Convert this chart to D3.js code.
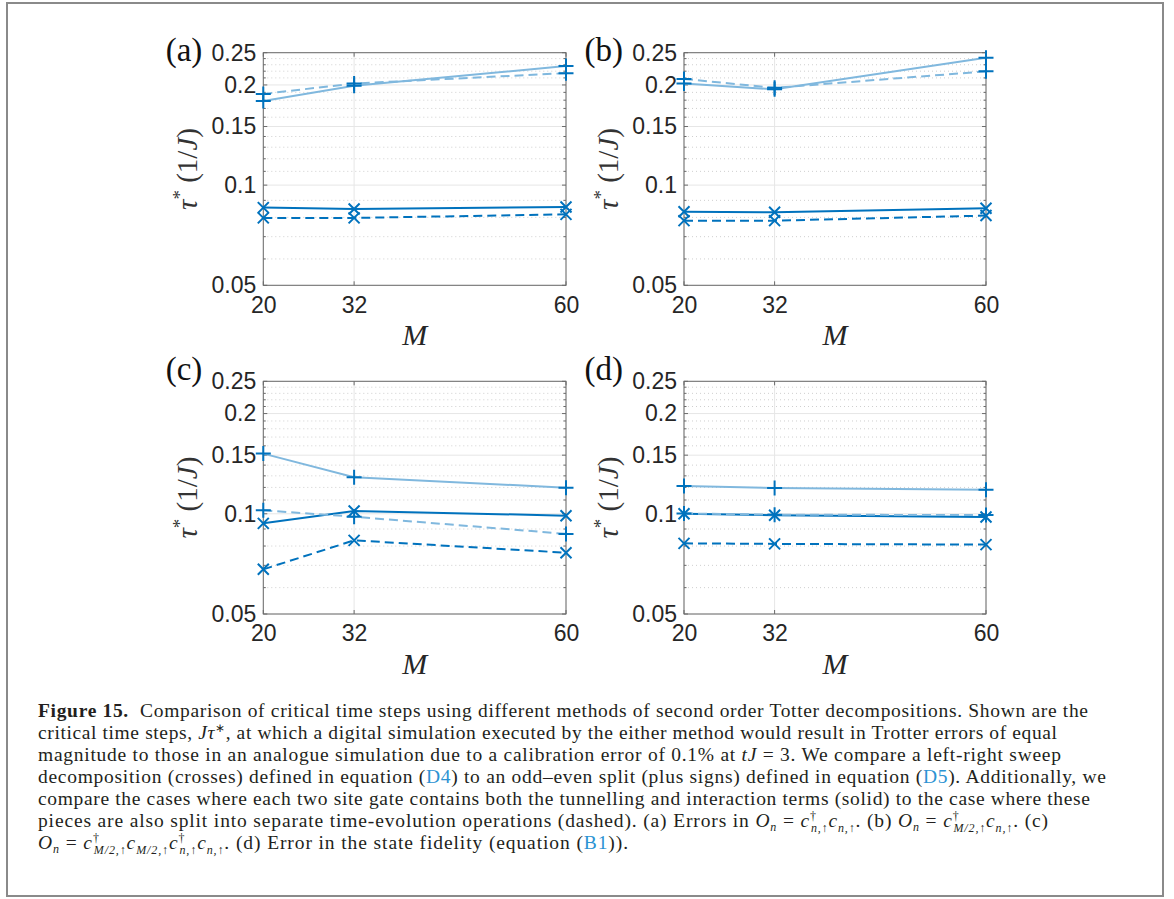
<!DOCTYPE html>
<html>
<head>
<meta charset="utf-8">
<script src="https://cdn.jsdelivr.net/npm/d3@7"></script>
<style>
  body { margin: 0; background: #fff; }
  svg { display: block; }
</style>
</head>
<body>
<script>
// x values (system size M) and axis ticks
const M = [20, 32, 60]
const xTickLabels = ['20', '32', '60']
const yTicks = [0.05, 0.1, 0.15, 0.2, 0.25]
const yTickLabels = ['0.05', '0.1', '0.15', '0.2', '0.25']
const panelLabels = ['(a)', '(b)', '(c)', '(d)']

// crosses = left-right sweep, plus = odd-even split; solid / dashed
const aCrossSolid = [0.0856, 0.0848, 0.0860]
const aCrossDashed = [0.0797, 0.0797, 0.0817]
const aPlusSolid = [0.179, 0.199, 0.228]
const aPlusDashed = [0.188, 0.202, 0.217]

const bCrossSolid = [0.0832, 0.0829, 0.0852]
const bCrossDashed = [0.0782, 0.0782, 0.0810]
const bPlusSolid = [0.202, 0.194, 0.2415]
const bPlusDashed = [0.2085, 0.196, 0.2197]

const cCrossSolid = [0.0936, 0.102, 0.0987]
const cCrossDashed = [0.0681, 0.0832, 0.0764]
const cPlusSolid = [0.1516, 0.1287, 0.1198]
const cPlusDashed = [0.1024, 0.098, 0.087]

const dCrossSolid = [0.1000, 0.0990, 0.0978]
const dCrossDashed = [0.0815, 0.0812, 0.0808]
const dPlusSolid = [0.1212, 0.1195, 0.1180]
const dPlusDashed = [0.1002, 0.0994, 0.0991]

const dark = '#0072BD'
const light = '#80b8de'
const dash = '9,5'

const panels = [
  { x0: 263.3, x1: 566, y0: 52.7, y1: 285.3, ly: 61, series: [aCrossSolid, aCrossDashed, aPlusSolid, aPlusDashed] },
  { x0: 684, x1: 986, y0: 52.7, y1: 285.3, ly: 61, series: [bCrossSolid, bCrossDashed, bPlusSolid, bPlusDashed] },
  { x0: 263.3, x1: 566, y0: 381.3, y1: 614, ly: 380, series: [cCrossSolid, cCrossDashed, cPlusSolid, cPlusDashed] },
  { x0: 684, x1: 986, y0: 381.3, y1: 614, ly: 380, series: [dCrossSolid, dCrossDashed, dPlusSolid, dPlusDashed] }
]

const svg = d3.select('body').append('svg')
  .attr('width', 1174)
  .attr('height', 899)

// outer frame
svg.append('rect')
  .attr('x', 7).attr('y', 3)
  .attr('width', 1156).attr('height', 893)
  .attr('fill', 'none')
  .attr('stroke', '#8a8a8a')
  .attr('stroke-width', 2)

const minorTicks = d3.range(6, 25).map(k => k / 100).filter(v => !yTicks.some(t => Math.abs(t - v) < 1e-9))

panels.forEach((p, i) => {
  const x = d3.scaleLinear().domain([20, 60]).range([p.x0, p.x1])
  const y = d3.scaleLog().domain([0.05, 0.25]).range([p.y1, p.y0])
  const g = svg.append('g')

  // grid
  g.selectAll('.gmin').data(minorTicks).join('line')
    .attr('x1', p.x0).attr('x2', p.x1)
    .attr('y1', d => y(d)).attr('y2', d => y(d))
    .attr('stroke', '#cfcfcf').attr('stroke-width', 1)
    .attr('stroke-dasharray', '1,3')
  g.selectAll('.gmaj').data(yTicks).join('line')
    .attr('x1', p.x0).attr('x2', p.x1)
    .attr('y1', d => y(d)).attr('y2', d => y(d))
    .attr('stroke', '#e6e6e6').attr('stroke-width', 1)
  g.selectAll('.gx').data(M).join('line')
    .attr('x1', d => x(d)).attr('x2', d => x(d))
    .attr('y1', p.y0).attr('y2', p.y1)
    .attr('stroke', '#e6e6e6').attr('stroke-width', 1)

  // box + inward ticks
  g.append('rect')
    .attr('x', p.x0).attr('y', p.y0)
    .attr('width', p.x1 - p.x0).attr('height', p.y1 - p.y0)
    .attr('fill', 'none').attr('stroke', '#6b6b6b').attr('stroke-width', 1)
  const tick = (vals, len) => {
    vals.forEach(v => {
      g.append('line').attr('x1', p.x0).attr('x2', p.x0 + len).attr('y1', y(v)).attr('y2', y(v))
        .attr('stroke', '#6b6b6b')
      g.append('line').attr('x1', p.x1).attr('x2', p.x1 - len).attr('y1', y(v)).attr('y2', y(v))
        .attr('stroke', '#6b6b6b')
    })
  }
  tick(yTicks, 4)
  tick(minorTicks, 2.5)
  M.forEach(v => {
    g.append('line').attr('x1', x(v)).attr('x2', x(v)).attr('y1', p.y1).attr('y2', p.y1 - 4).attr('stroke', '#6b6b6b')
    g.append('line').attr('x1', x(v)).attr('x2', x(v)).attr('y1', p.y0).attr('y2', p.y0 + 4).attr('stroke', '#6b6b6b')
  })

  // axes labels through d3 axes
  const yAxis = d3.axisLeft(y).tickValues(yTicks).tickFormat((d, k) => yTickLabels[k])
    .tickSize(0).tickPadding(7)
  const xAxis = d3.axisBottom(x).tickValues(M).tickFormat((d, k) => xTickLabels[k])
    .tickSize(0).tickPadding(11)
  g.append('g').attr('transform', `translate(${p.x0},0)`).call(yAxis)
    .call(s => s.select('.domain').remove())
    .selectAll('text').attr('font-family', '"Liberation Sans", Arial, sans-serif')
    .attr('font-size', 23).attr('fill', '#262626')
  g.append('g').attr('transform', `translate(0,${p.y1})`).call(xAxis)
    .call(s => s.select('.domain').remove())
    .selectAll('text').attr('font-family', '"Liberation Sans", Arial, sans-serif')
    .attr('font-size', 23).attr('fill', '#262626')

  const cx = (p.x0 + p.x1) / 2
  g.append('text')
    .attr('x', cx).attr('y', p.y1 + 60)
    .attr('text-anchor', 'middle')
    .attr('font-family', '"Liberation Serif", serif')
    .attr('font-style', 'italic')
    .attr('font-size', 30)
    .attr('fill', '#262626')
    .text('M')

  const yl = g.append('text')
    .attr('transform', `translate(${p.x0 - 66},${(p.y0 + p.y1) / 2}) rotate(-90)`)
    .attr('text-anchor', 'middle')
    .attr('font-family', '"Liberation Serif", serif')
    .attr('font-size', 29)
    .attr('fill', '#333')
  yl.append('tspan').attr('font-style', 'italic').text('τ')
  yl.append('tspan').attr('font-size', 19).attr('dy', -11).text('*')
  yl.append('tspan').attr('dy', 11).text(' (1/')
  yl.append('tspan').attr('font-style', 'italic').text('J')
  yl.append('tspan').text(')')

  g.append('text')
    .attr('x', p.x0 - 61).attr('y', p.ly)
    .attr('text-anchor', 'end')
    .attr('font-family', '"Liberation Serif", serif')
    .attr('font-size', 33)
    .attr('fill', '#111')
    .text(panelLabels[i])

  // series
  const line = d3.line().x((d, k) => x(M[k])).y(d => y(d))
  const styles = [
    { color: dark, dash: null, mk: 'x' },
    { color: dark, dash: dash, mk: 'x' },
    { color: light, dash: null, mk: '+' },
    { color: light, dash: dash, mk: '+' }
  ]
  p.series.forEach((vals, k) => {
    g.append('path').datum(vals)
      .attr('d', line)
      .attr('fill', 'none')
      .attr('stroke', styles[k].color)
      .attr('stroke-width', 2)
      .attr('stroke-dasharray', styles[k].dash)
  })
  p.series.forEach((vals, k) => {
    const mk = styles[k].mk === 'x'
      ? 'M-5.5,-5.5L5.5,5.5M-5.5,5.5L5.5,-5.5'
      : 'M-7.5,0H7.5M0,-7.5V7.5'
    g.selectAll(null).data(vals).join('path')
      .attr('transform', (d, j) => `translate(${x(M[j])},${y(d)})`)
      .attr('d', mk)
      .attr('fill', 'none')
      .attr('stroke', dark)
      .attr('stroke-width', 2)
  })
})

// caption
const capX = 38
const capY0 = 717
const capDy = 22
const link = '#2b93d3'
const sup = (t) => ({ t, s: 12, dy: -7 })
const cap = [
  { w: 1050, runs: [{ t: 'Figure 15.', b: 1 }, { t: '  Comparison of critical time steps using different methods of second order Totter decompositions. Shown are the' }] },
  { w: 1019, runs: [{ t: 'critical time steps, ' }, { t: 'Jτ', i: 1 }, { t: '∗', s: 12, dy: -7 }, { t: ', at which a digital simulation executed by the either method would result in Trotter errors of equal', dy: 7 }] },
  { w: 1023, runs: [{ t: 'magnitude to those in an analogue simulation due to a calibration error of 0.1% at ' }, { t: 'tJ', i: 1 }, { t: ' = 3. We compare a left-right sweep' }] },
  { w: 1068, runs: [{ t: 'decomposition (crosses) defined in equation (' }, { t: 'D4', c: link }, { t: ') to an odd–even split (plus signs) defined in equation (' }, { t: 'D5', c: link }, { t: '). Additionally, we' }] },
  { w: 1052, runs: [{ t: 'compare the cases where each two site gate contains both the tunnelling and interaction terms (solid) to the case where these' }] },
  {
    w: 1010,
    runs: [{ t: 'pieces are also split into separate time-evolution operations (dashed). (a) Errors in ' },
      { t: 'O', i: 1 }, { t: 'n', i: 1, s: 12, dy: 4 }, { t: ' = ', dy: -4 }, { t: 'c', i: 1 }, sup('†'), { t: 'n,↑', i: 1, s: 12, dx: -6, dy: 12 }, { t: 'c', i: 1, dy: -5 }, { t: 'n,↑', i: 1, s: 12, dy: 5 }, { t: '. (b) ', dy: -5 },
      { t: 'O', i: 1 }, { t: 'n', i: 1, s: 12, dy: 4 }, { t: ' = ', dy: -4 }, { t: 'c', i: 1 }, sup('†'), { t: 'M/2,↑', i: 1, s: 12, dx: -6, dy: 12 }, { t: 'c', i: 1, dy: -5 }, { t: 'n,↑', i: 1, s: 12, dy: 5 }, { t: '. (c)', dy: -5 }]
  },
  {
    w: 590,
    runs: [{ t: 'O', i: 1 }, { t: 'n', i: 1, s: 12, dy: 4 }, { t: ' = ', dy: -4 }, { t: 'c', i: 1 }, sup('†'), { t: 'M/2,↑', i: 1, s: 12, dx: -6, dy: 12 }, { t: 'c', i: 1, dy: -5 }, { t: 'M/2,↑', i: 1, s: 12, dy: 5 },
      { t: 'c', i: 1, dy: -5 }, sup('†'), { t: 'n,↑', i: 1, s: 12, dx: -6, dy: 12 }, { t: 'c', i: 1, dy: -5 }, { t: 'n,↑', i: 1, s: 12, dy: 5 },
      { t: '. (d) Error in the state fidelity (equation (', dy: -5 }, { t: 'B1', c: link }, { t: ')).' }]
  }
]
cap.forEach((ln, k) => {
  const t = svg.append('text')
    .attr('x', capX).attr('y', capY0 + k * capDy)
    .attr('font-family', '"Liberation Serif", "Times New Roman", serif')
    .attr('font-size', 19.5)
    .attr('fill', '#231f20')
    .attr('textLength', ln.w)
    .attr('lengthAdjust', 'spacing')
    .style('white-space', 'pre')
  ln.runs.forEach(r => {
    const ts = t.append('tspan').text(r.t)
    if (r.i) ts.attr('font-style', 'italic')
    if (r.b) ts.attr('font-weight', 'bold')
    if (r.c) ts.attr('fill', r.c)
    if (r.s) ts.attr('font-size', r.s)
    if (r.dy) ts.attr('dy', r.dy)
    if (r.dx) ts.attr('dx', r.dx)
  })
})
</script>
</body>
</html>
